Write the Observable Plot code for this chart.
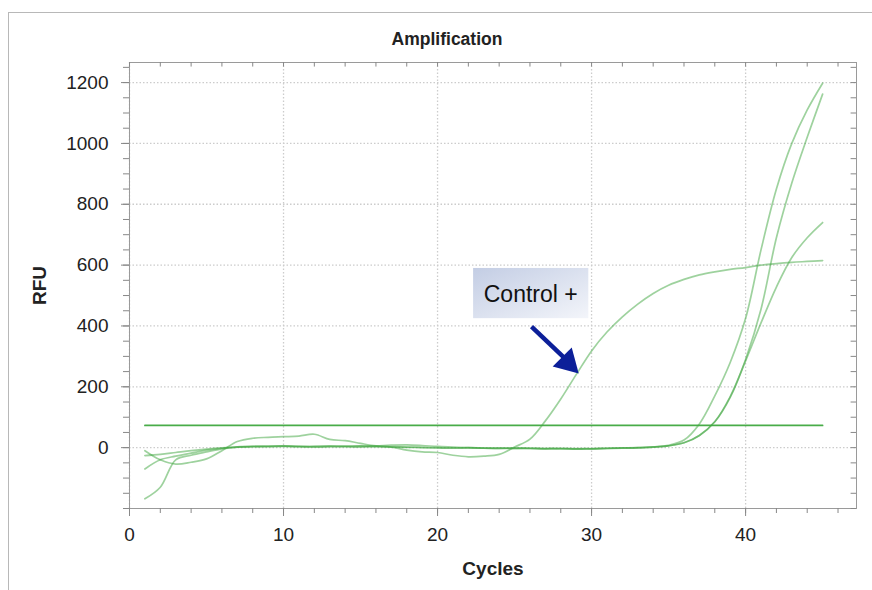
<!DOCTYPE html>
<html><head><meta charset="utf-8">
<script src="https://cdn.jsdelivr.net/npm/d3@7"></script>
<script src="https://cdn.jsdelivr.net/npm/@observablehq/plot@0.6"></script>
<style>
body{margin:0;background:#fff;font-family:"Liberation Sans",Arial,sans-serif;}
#wrap{position:relative;width:872px;height:590px;overflow:hidden;}
#frame{position:absolute;left:8px;top:12px;width:900px;height:600px;border-top:1px solid #b8b8b8;border-left:1px solid #b8b8b8;}
#title{position:absolute;top:29px;left:0;width:894px;text-align:center;font-weight:bold;font-size:17.5px;color:#222;}
#chart{position:absolute;left:0;top:0;}
#chart [aria-label="x-axis label"], #chart [aria-label="y-axis label"]{font-weight:bold;font-size:19px;}
</style></head><body>
<div id="wrap"><div id="frame"></div><div id="title">Amplification</div><div id="chart"></div></div>
<script>
const cycles = [1,2,3,4,5,6,7,8,9,10,11,12,13,14,15,16,17,18,19,20,21,22,23,24,25,26,27,28,29,30,31,32,33,34,35,36,37,38,39,40,41,42,43,44,45];
const controlPlus = [-10,-40,-54,-48,-37,-10,20,31,34,36,38,44,27,23,14,6,2,-8,-14,-16,-25,-30,-28,-22,2,28,88,160,240,318,380,430,472,507,534,553,568,578,586,592,600,605,609,612,615];
const sampleA = [-168,-130,-40,-25,-14,-4,2,4,5,6,4,5,6,5,6,4,3,2,1,0,-1,0,-2,-1,-3,-2,-3,-4,-3,-4,-2,-1,0,3,8,25,78,170,280,425,650,850,1000,1110,1198];
const sampleB = [-70,-40,-28,-18,-8,-2,3,4,3,5,4,3,4,3,2,3,2,1,0,-1,-2,-1,-2,-3,-2,-3,-4,-3,-5,-4,-3,-2,-1,2,6,16,40,85,165,290,455,690,870,1020,1162];
const sampleC = [-26,-22,-16,-10,-5,-1,2,3,4,4,3,2,3,4,5,6,8,9,7,4,2,0,-1,-2,-1,-2,-3,-2,-4,-3,-2,-1,0,2,6,16,40,85,168,285,410,528,625,690,740];
const seriesNames = ["Control +","Sample A","Sample B","Sample C"];
const seriesValues = [controlPlus, sampleA, sampleB, sampleC];
const threshold = [73];
const thresholdCycles = [1, 45];
const xMajor = [0,10,20,30,40];
const xMinor = [0,2,4,6,8,10,12,14,16,18,20,22,24,26,28,30,32,34,36,38,40,42,44,46];
const yMajor = [0,200,400,600,800,1000,1200];
const yMinor = [-200,-150,-100,-50,0,50,100,150,200,250,300,350,400,450,500,550,600,650,700,750,800,850,900,950,1000,1050,1100,1150,1200,1250];
const xDomain = [0, 47.2];
const yDomain = [-200, 1266];
// annotation (data coordinates)
const labelBox = [{x1:22.34, x2:29.82, y1:424, y2:589}];
const labelText = [{x:26.05, y:503, text:"Control +"}];
const arrowLine = [{x1:26.1, y1:398, x2:28.3, y2:292}];
const arrowHead = [{x:28.45, y:280}];

const rows = [];
seriesNames.forEach((name, i) => cycles.forEach((c, j) => rows.push({series:name, cycle:c, rfu:seriesValues[i][j]})));
const thrRows = thresholdCycles.map(c => ({cycle:c, rfu:threshold[0]}));

const chart = Plot.plot({
  width: 872, height: 590,
  marginLeft: 129, marginRight: 16, marginTop: 62, marginBottom: 82,
  x: {domain: xDomain},
  y: {domain: yDomain},
  style: {fontFamily: "'Liberation Sans', Arial, sans-serif", fontSize: "19px", color: "#222", background: "transparent"},
  marks: [
    Plot.gridX(xMajor, {stroke:"#cccccc", strokeOpacity:1, strokeWidth:1.3, strokeDasharray:"1.5,2"}),
    Plot.gridY(yMajor, {stroke:"#cccccc", strokeOpacity:1, strokeWidth:1.3, strokeDasharray:"1.5,2"}),
    Plot.frame({stroke:"#9a9a9a"}),
    Plot.axisX(xMinor, {tickSize:5, text:null, label:null, stroke:"#888"}),
    Plot.axisX(xMajor, {tickSize:8, tickPadding:11, stroke:"#888", tickFormat:d => String(d), label:"Cycles", labelAnchor:"center", labelOffset:66, labelArrow:"none"}),
    Plot.ruleX(xMinor, {y1:yDomain[1]-15, y2:yDomain[1], stroke:"#888"}),
    Plot.axisY(yMinor, {tickSize:6, text:null, label:null, stroke:"#888"}),
    Plot.axisY(yMajor, {tickSize:8, tickPadding:13, stroke:"#888", tickFormat:d => String(d), label:"RFU", labelAnchor:"center", labelOffset:97, labelArrow:"none"}),
    Plot.ruleY(yMinor, {x1:xDomain[1]-0.35, x2:xDomain[1], stroke:"#888"}),
    Plot.line(rows, {x:"cycle", y:"rfu", z:"series", stroke:"#3da53d", strokeOpacity:0.5, strokeWidth:1.7, curve:"catmull-rom"}),
    Plot.line(thrRows, {x:"cycle", y:"rfu", stroke:"#3fa83f", strokeOpacity:0.95, strokeWidth:1.7}),
    Plot.rect(labelBox, {x1:"x1", x2:"x2", y1:"y1", y2:"y2", fill:"url(#ctrlGrad)"}),
    Plot.text(labelText, {x:"x", y:"y", text:"text", fontSize:23, fill:"#111"}),
    Plot.link(arrowLine, {x1:"x1", y1:"y1", x2:"x2", y2:"y2", stroke:"#0c1f99", strokeWidth:4.5}),
    Plot.dot(arrowHead, {x:"x", y:"y", symbol:"triangle", r:10, fill:"#0c1f99", stroke:null, rotate:135})
  ]
});
const ns = "http://www.w3.org/2000/svg";
const defs = document.createElementNS(ns, "defs");
const grad = document.createElementNS(ns, "linearGradient");
grad.setAttribute("id", "ctrlGrad");
grad.setAttribute("x1", "0"); grad.setAttribute("y1", "0");
grad.setAttribute("x2", "1"); grad.setAttribute("y2", "1");
[["0%","#c3cde4"],["100%","#f3f5fa"]].forEach(([o,c]) => {
  const s = document.createElementNS(ns, "stop");
  s.setAttribute("offset", o); s.setAttribute("stop-color", c);
  grad.appendChild(s);
});
defs.appendChild(grad);
chart.insertBefore(defs, chart.firstChild);
document.getElementById("chart").appendChild(chart);
</script>
</body></html>
